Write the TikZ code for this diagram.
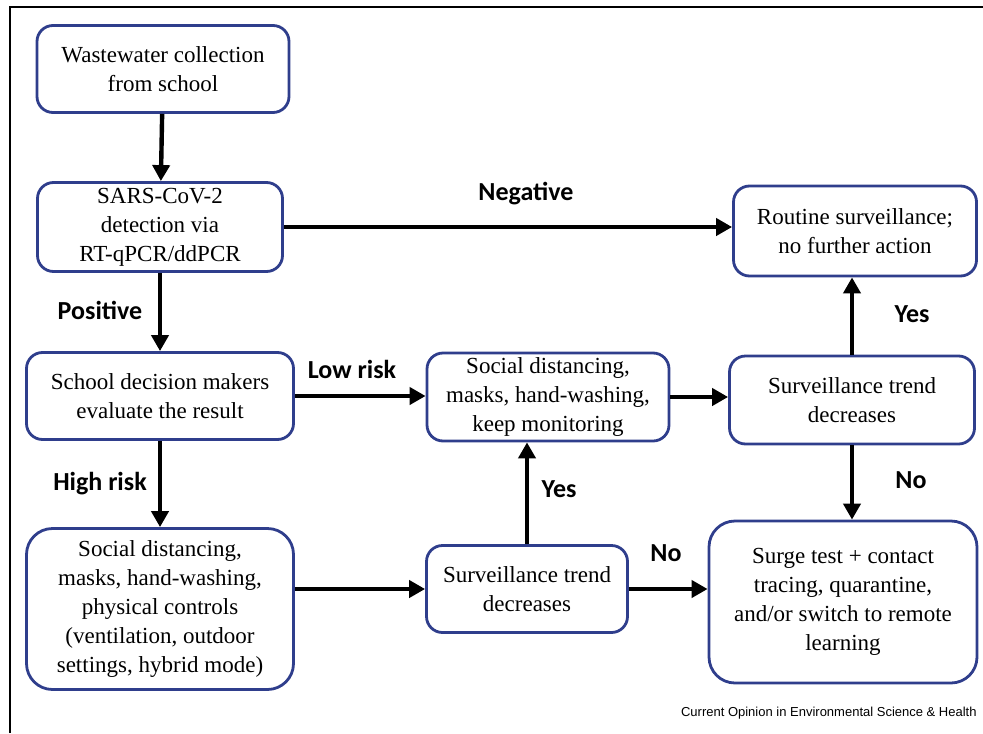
\documentclass[tikz,border=0pt]{standalone}
\usepackage{fontspec}
\setmainfont{Liberation Serif}
\newfontfamily\lblfont{Carlito}
\newfontfamily\capfont{Liberation Sans}
\usepackage{xcolor}
\usetikzlibrary{arrows.meta, positioning, calc}
\definecolor{boxblue}{RGB}{47,62,140}
\tikzset{
  box/.style={draw=boxblue, line width=1.4pt, rounded corners=8pt, align=center,
    inner sep=0pt, font=\fontsize{11.5}{14.5}\selectfont},
  bigbox/.style={box, rounded corners=13pt},
  flow/.style={line width=2.2pt, -{Triangle[length=8pt,width=8.5pt]}},
  lbl/.style={font=\lblfont\bfseries\fontsize{13}{15}\selectfont}
}
\begin{document}
\begin{tikzpicture}[x=0.5pt,y=-0.5pt]
        \useasboundingbox (0,0) rectangle (983,733);
        \draw[line width=0.8pt] (10,733) -- (10,7) -- (983,7);

        \node[box,minimum width=126pt,minimum height=43.5pt] (wcol) at (163,69) {Wastewater collection\\from school};
        \node[box,minimum width=122.5pt,minimum height=44.5pt] (detect) at (160,227) {SARS-CoV-2\\detection via\\RT-qPCR/ddPCR};
        \node[box,minimum width=133.5pt,minimum height=43.5pt] (decide) at (160,396) {School decision makers\\evaluate the result};
        \node[bigbox,minimum width=133.5pt,minimum height=80.5pt] (highctl) at (160,609) {Social distancing,\\masks, hand-washing,\\physical controls\\(ventilation, outdoor\\settings, hybrid mode)};
        \node[box,minimum width=121pt,minimum height=44pt] (lowctl) at (548,397) {Social distancing,\\masks, hand-washing,\\keep monitoring};
        \node[box,minimum width=100.5pt,minimum height=43.5pt] (trendmid) at (527,589) {Surveillance trend\\decreases};
        \node[box,minimum width=121.5pt,minimum height=45pt] (routine) at (855,231) {Routine surveillance;\\no further action};
        \node[box,minimum width=122.5pt,minimum height=44pt] (trendright) at (852,400) {Surveillance trend\\decreases};
        \node[bigbox,minimum width=134pt,minimum height=81pt] (surge) at (843,602) {Surge test + contact\\tracing, quarantine,\\and/or switch to remote\\learning};

        \draw[flow] (wcol) -- (detect);
        \draw[flow] (detect.east) -- (detect.east -| routine.west);
        \draw[flow] (detect) -- (decide);
        \draw[flow] (decide.east) -- (decide.east -| lowctl.west);
        \draw[flow] (decide) -- (highctl);
        \draw[flow] (highctl.east |- trendmid) -- (trendmid);
        \draw[flow] (trendmid.north) -- (trendmid.north |- lowctl.south);
        \draw[flow] (trendmid.east) -- (trendmid.east -| surge.west);
        \draw[flow] (lowctl.east) -- (lowctl.east -| trendright.west);
        \draw[flow] (trendright.north) -- (trendright.north |- routine.south);
        \draw[flow] (trendright.south) -- (trendright.south |- surge.north);

        \node[lbl] (neg) at (526,194) {Negative};
        \node[lbl] (pos) at (100,310) {Positive};
        \node[lbl] (low) at (352,369) {Low risk};
        \node[lbl] (high) at (100,484) {High risk};
        \node[lbl] (yesmid) at (559,489) {Yes};
        \node[lbl] (nomid) at (666,553) {No};
        \node[lbl] (yesright) at (912,314) {Yes};
        \node[lbl] (noright) at (911,480) {No};

        \node[anchor=east,inner sep=0pt,font=\capfont\fontsize{6.5}{8}\selectfont] (src) at (977,713) {Current Opinion in Environmental Science \& Health};
      \end{tikzpicture}
\end{document}
